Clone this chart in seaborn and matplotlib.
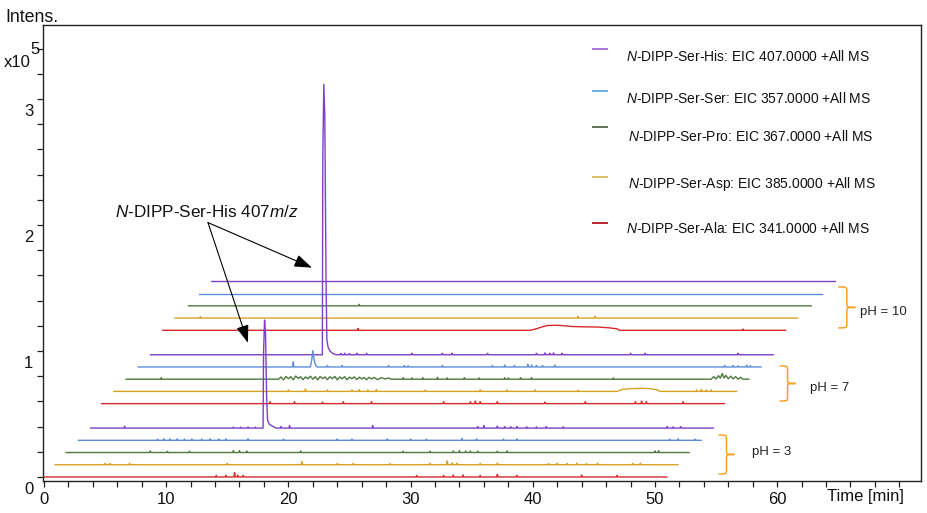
import numpy as np
import pandas as pd
import matplotlib
matplotlib.use("Agg")
import matplotlib.pyplot as plt
import matplotlib.transforms as mtransforms
from matplotlib.path import Path
from matplotlib.patches import PathPatch
import seaborn as sns

# ---------------- data ----------------
compounds = ["His", "Ser", "Pro", "Asp", "Ala"]
eic_mz = ["407.0000", "357.0000", "367.0000", "385.0000", "341.0000"]
ph_groups = ["pH = 3", "pH = 7", "pH = 10"]

# traces from bottom to top: (pH3: Ala, Asp, Pro, Ser, His), (pH7 ...), (pH10 ...)
trace_compound = ["Ala", "Asp", "Pro", "Ser", "His"] * 3
trace_start = [0.0, 0.9, 1.8, 2.8, 3.8, 4.7, 5.7, 6.7, 7.7, 8.7,
               9.7, 10.7, 11.8, 12.7, 13.7]
trace_length = 51.0
trace_offset = [0.0, 0.097, 0.194, 0.291, 0.388,
                0.582, 0.679, 0.776, 0.873, 0.970,
                1.164, 1.261, 1.358, 1.455, 1.552]

# small spikes (plotted time [min], intensity x1e5)
spikes_ph3_ala = [(14.1, .012), (14.9, .012), (15.6, .035), (15.85, .015), (16.3, .012),
                  (30.5, .012), (32.7, .012), (33.5, .015), (34.3, .015), (35.7, .012),
                  (37.1, .02), (38.7, .012), (44.0, .015), (46.9, .012)]
spikes_ph3_asp = [(5.0, .01), (5.4, .01), (7.0, .012), (15.0, .012), (21.1, .025),
                  (24.0, .01), (25.3, .01), (28.3, .01), (31.6, .012), (33.0, .03),
                  (33.4, .015), (33.8, .012), (35.7, .01), (37.1, .012), (41.3, .01),
                  (42.0, .012), (42.8, .01), (43.6, .012), (44.4, .01), (45.3, .012),
                  (48.2, .01), (48.8, .012)]
spikes_ph3_pro = [(8.7, .012), (10.1, .01), (11.9, .01), (15.5, .015), (16.0, .015),
                  (16.6, .012), (21.0, .012), (29.4, .01), (31.6, .01), (33.5, .012),
                  (34.0, .015), (34.5, .012), (34.9, .012), (35.5, .01), (37.1, .01),
                  (37.9, .012), (50.0, .012), (50.3, .015)]
spikes_ph3_ser = [(9.3, .01), (9.8, .012), (10.3, .01), (10.9, .012), (11.5, .01),
                  (12.1, .01), (12.9, .01), (13.6, .012), (14.3, .01), (14.9, .012),
                  (16.7, .012), (19.6, .01), (24.0, .01), (25.2, .01), (28.1, .012),
                  (30.0, .01), (31.3, .01), (34.2, .015), (35.4, .012), (37.6, .01),
                  (38.7, .012), (51.2, .01), (51.9, .012), (53.3, .01)]
spikes_ph3_his = [(6.6, .015), (15.5, .008), (16.1, .008), (16.7, .008), (17.3, .008),
                  (19.4, .012), (20.1, .02), (26.9, .02), (35.5, .012), (36.0, .02),
                  (37.1, .015), (37.7, .012), (38.2, .01), (38.7, .012), (39.5, .01),
                  (40.3, .01), (41.1, .012), (42.5, .01), (51.0, .012), (51.5, .01),
                  (52.1, .012)]
spikes_ph7_ala = [(18.5, .015), (20.5, .015), (22.8, .012), (24.5, .015), (26.8, .015),
                  (32.7, .015), (34.9, .015), (35.3, .02), (35.7, .015), (37.1, .015),
                  (41.0, .012), (44.3, .015), (48.4, .015), (48.9, .02), (49.3, .015),
                  (52.3, .015)]
spikes_ph7_asp = [(20.0, .012), (21.4, .02), (23.2, .012), (25.2, .012), (25.8, .015),
                  (26.5, .012), (27.2, .015), (31.2, .01), (35.7, .012), (37.9, .012),
                  (40.2, .012), (43.7, .01), (53.4, .012), (53.8, .015), (54.2, .012),
                  (54.6, .012)]
spikes_ph7_pro = [(9.6, .012), (29.4, .012), (30.1, .01), (31.0, .012), (32.2, .015),
                  (33.0, .01), (34.4, .012), (35.6, .01), (37.7, .012), (38.0, .01),
                  (39.0, .012), (39.9, .012), (46.6, .01)]
spikes_ph7_ser = [(20.4, .04), (23.2, .012), (24.4, .012), (28.2, .012), (29.5, .012),
                  (29.8, .01), (32.6, .012), (36.7, .012), (37.7, .015), (38.5, .012),
                  (39.6, .02), (39.9, .015), (40.3, .012), (40.8, .012), (41.8, .015),
                  (55.7, .012), (56.4, .012), (56.8, .01), (57.5, .015), (57.8, .01)]
spikes_ph7_his = [(24.3, .01), (24.6, .012), (25.0, .01), (25.6, .012), (26.4, .012),
                  (30.1, .012), (32.6, .012), (33.4, .012), (36.3, .012), (40.3, .012),
                  (41.0, .015), (41.4, .012), (41.7, .015), (42.4, .012), (48.0, .012),
                  (49.2, .012), (56.8, .012)]
spikes_ph10_ala = [(25.7, .015), (57.2, .01)]
spikes_ph10_asp = [(12.8, .012), (43.7, .015), (45.1, .015)]
spikes_ph10_pro = [(25.8, .012)]
spikes_ph10_ser = []
spikes_ph10_his = []

# noisy bands of the pH 7 Pro trace (plotted time [min], intensity x1e5)
noise_ph7_pro_a_x = [19.2, 19.4, 19.6, 19.8, 20.0, 20.2, 20.4, 20.6, 20.8, 21.0, 21.2, 21.4,
                     21.6, 21.8, 22.0, 22.2, 22.4, 22.6, 22.8, 23.0, 23.2, 23.4, 23.6, 23.8,
                     24.0, 24.2, 24.4, 24.6, 24.8, 25.0, 25.2, 25.4, 25.6, 25.8, 26.0, 26.2,
                     26.4, 26.6, 26.8, 27.0, 27.3, 27.6, 27.9, 28.2, 28.4]
noise_ph7_pro_a_y = [0.0, 0.018, -0.006, 0.022, 0.004, 0.02, -0.005, 0.025, 0.006, 0.02,
                     -0.004, 0.018, 0.003, 0.024, 0.0, 0.02, -0.006, 0.022, 0.005, 0.018,
                     -0.004, 0.02, 0.004, 0.022, -0.005, 0.018, 0.003, 0.02, -0.004, 0.016,
                     0.004, 0.018, -0.003, 0.016, 0.002, 0.014, -0.004, 0.015, 0.002, 0.014,
                     -0.003, 0.012, 0.002, 0.01, 0.0]
noise_ph7_pro_b_x = [54.6, 54.8, 55.0, 55.2, 55.35, 55.5, 55.65, 55.8, 56.0, 56.2, 56.4,
                     56.6, 56.8, 57.0, 57.2]
noise_ph7_pro_b_y = [0.0, 0.02, 0.002, 0.028, 0.008, 0.045, 0.01, 0.03, 0.004, 0.024,
                     0.002, 0.02, 0.0, 0.015, 0.0]

# larger peaks / humps (plotted time [min], intensity x1e5 above the trace baseline)
peak_ph3_his_x = [17.93, 17.97, 18.05, 18.13, 18.22, 18.30, 18.45, 18.70, 19.00]
peak_ph3_his_y = [0.0, 0.60, 0.857, 0.75, 0.25, 0.06, 0.03, 0.015, 0.0]
peak_ph7_his_x = [22.78, 22.82, 22.90, 22.98, 23.08, 23.15, 23.25, 23.40, 23.60, 23.90]
peak_ph7_his_y = [0.0, 1.60, 2.146, 1.90, 0.60, 0.12, 0.06, 0.03, 0.012, 0.0]
peak_ph7_ser_x = [21.80, 21.92, 22.00, 22.08, 22.20, 22.35]
peak_ph7_ser_y = [0.0, 0.06, 0.13, 0.07, 0.02, 0.0]
hump_ph10_ala_x = [39.8, 40.2, 40.8, 41.2, 42.0, 42.6, 43.2, 44.0, 45.3, 46.2, 46.9, 47.1]
hump_ph10_ala_y = [0.0, 0.01, 0.028, 0.038, 0.04, 0.036, 0.03, 0.028, 0.026, 0.02, 0.012, 0.0]
hump_ph7_asp_x = [46.9, 47.3, 48.0, 49.0, 49.8, 50.2, 50.4]
hump_ph7_asp_y = [0.0, 0.015, 0.022, 0.025, 0.02, 0.012, 0.0]

# ---------------- styling ----------------
sns.set_theme(style="ticks")
plt.rcParams["font.family"] = ["Liberation Sans", "DejaVu Sans"]
plt.rcParams["mathtext.fontset"] = "custom"
plt.rcParams["mathtext.rm"] = "Liberation Sans"
plt.rcParams["mathtext.it"] = "Liberation Sans:italic"

trace_colors = {"His": "#7E3FC4", "Ser": "#5B8DD8", "Pro": "#4D7A3C",
                "Asp": "#D6A224", "Ala": "#D62828"}
legend_colors = {"His": "#A56BD6", "Ser": "#62A8E2", "Pro": "#54684A",
                 "Asp": "#D9B75C", "Ala": "#B3141C"}

all_spikes = [spikes_ph3_ala, spikes_ph3_asp, spikes_ph3_pro, spikes_ph3_ser, spikes_ph3_his,
              spikes_ph7_ala, spikes_ph7_asp, spikes_ph7_pro, spikes_ph7_ser, spikes_ph7_his,
              spikes_ph10_ala, spikes_ph10_asp, spikes_ph10_pro, spikes_ph10_ser, spikes_ph10_his]
all_peaks = {4: [(peak_ph3_his_x, peak_ph3_his_y)],
             9: [(peak_ph7_his_x, peak_ph7_his_y)],
             8: [(peak_ph7_ser_x, peak_ph7_ser_y)],
             10: [(hump_ph10_ala_x, hump_ph10_ala_y)],
             6: [(hump_ph7_asp_x, hump_ph7_asp_y)],
             7: [(noise_ph7_pro_a_x, noise_ph7_pro_a_y), (noise_ph7_pro_b_x, noise_ph7_pro_b_y)]}


def build_trace(i):
    start = trace_start[i]
    pts = [(start, 0.0), (start + trace_length, 0.0)]
    for (x, h) in all_spikes[i]:
        pts += [(x - 0.05, 0.0), (x, h), (x + 0.05, 0.0)]
    for (px, py) in all_peaks.get(i, []):
        pts += list(zip(px, py))
    pts.sort(key=lambda p: p[0])
    xs = np.array([p[0] for p in pts])
    ys = np.array([p[1] for p in pts]) + trace_offset[i]
    return xs, ys


W, H = 928, 513
fig = plt.figure(figsize=(W / 100, H / 100), dpi=100)
ax = fig.add_axes([43 / W, (H - 481) / H, (921 - 43) / W, (481 - 25) / H])

for i in range(len(trace_start)):
    xs, ys = build_trace(i)
    df = pd.DataFrame({"time": xs, "intensity": ys})
    sns.lineplot(data=df, x="time", y="intensity", ax=ax, estimator=None, sort=False,
                 color=trace_colors[trace_compound[i]], lw=1.0, zorder=30 - i, legend=False)

ax.set_xlim(-0.08, 71.77)
ax.set_ylim(-0.032, 3.587)
ax.set_xlabel("")
ax.set_ylabel("")

for s in ax.spines.values():
    s.set_visible(True)
    s.set_linewidth(1.0)
    s.set_color("#222222")

ax.set_xticks([0, 10, 20, 30, 40, 50, 60])
ax.set_xticks(np.arange(0, 72, 2), minor=True)
ax.set_yticks([0, 1, 2, 3])
ax.set_yticks(np.arange(0, 3.5, 0.2), minor=True)
ax.tick_params(axis="both", which="both", direction="out", length=4, width=0.9,
               color="#222222", labelsize=12, labelcolor="#111111")
ax.tick_params(axis="x", which="both", top=False, pad=4)
ax.tick_params(axis="y", which="both", right=False, pad=3)

# y tick labels sit a little below their ticks in the reference
off = mtransforms.ScaledTranslation(0, -0.11, fig.dpi_scale_trans)
for t in ax.yaxis.get_major_ticks():
    t.label1.set_transform(t.label1.get_transform() + off)

# axis texts
fig.text(5 / W, 1 - 17.5 / H, "Intens.", fontsize=12.8, ha="left", va="center", color="#111111")
fig.text(4 / W, 1 - 63 / H, "x10", fontsize=12, ha="left", va="center", color="#111111")
fig.text(30 / W, 1 - 49 / H, "5", fontsize=12, ha="left", va="center", color="#111111")
fig.text(865 / W, 1 - 497 / H, "Time [min]", fontsize=12, ha="center", va="center", color="#111111")

# legend (manual, as in the reference)
legend_line_y = [3.394, 3.060, 2.774, 2.377, 2.019]
legend_text_y = [3.339, 3.005, 2.700, 2.329, 1.971]
legend_text_x = [47.6, 47.6, 47.8, 47.8, 47.6]
for k, c in enumerate(compounds):
    ax.plot([44.84, 46.15], [legend_line_y[k], legend_line_y[k]], color=legend_colors[c],
            lw=1.3, solid_capstyle="butt", zorder=40)
    ax.text(legend_text_x[k], legend_text_y[k],
            r"$\mathit{N}$-DIPP-Ser-" + c + ": EIC " + eic_mz[k] + " +All MS",
            fontsize=10, ha="left", va="center", color="#111111", zorder=40)

# annotation with two arrows
ax.text(13.34, 2.099, r"$\mathit{N}$-DIPP-Ser-His 407$\mathit{m/z}$", fontsize=12.3,
        ha="center", va="center", color="#111111", zorder=40)
arrow_ends = [(16.69, 1.065), (21.93, 1.661)]
for (ex, ey) in arrow_ends:
    ax.annotate("", xy=(ex, ey), xytext=(13.42, 2.019),
                arrowprops=dict(arrowstyle="-|>,head_length=0.9,head_width=0.32",
                                color="black", lw=0.8, shrinkA=0, shrinkB=0,
                                mutation_scale=12),
                zorder=40)

# braces with pH labels
brace_x0 = [55.2, 60.2, 65.0]
brace_tip = [56.5, 61.5, 66.4]
brace_top = [0.333, 0.881, 1.508]
brace_bot = [0.024, 0.603, 1.183]
label_x = [57.9, 62.7, 66.8]
label_y = [0.198, 0.706, 1.31]


def brace(x0, tip, ytop, ybot):
    xm = x0 + 0.5 * (tip - x0)
    ym = 0.5 * (ytop + ybot)
    r = 0.25 * (ytop - ybot) / 2
    verts = [(x0, ytop), (xm, ytop), (xm, ytop), (xm, ytop - r),
             (xm, ym + r),
             (xm, ym), (xm, ym), (tip, ym),
             (xm, ym), (xm, ym), (xm, ym - r),
             (xm, ybot + r),
             (xm, ybot), (xm, ybot), (x0, ybot)]
    codes = [Path.MOVETO, Path.CURVE4, Path.CURVE4, Path.CURVE4,
             Path.LINETO,
             Path.CURVE4, Path.CURVE4, Path.CURVE4,
             Path.CURVE4, Path.CURVE4, Path.CURVE4,
             Path.LINETO,
             Path.CURVE4, Path.CURVE4, Path.CURVE4]
    return Path(verts, codes)


for k in range(3):
    p = brace(brace_x0[k], brace_tip[k], brace_top[k], brace_bot[k])
    ax.add_patch(PathPatch(p, fill=False, edgecolor="#F5A226", lw=1.1, zorder=40))
    ax.text(label_x[k], label_y[k], ph_groups[k], fontsize=9.5, ha="left", va="center",
            color="#222222", zorder=40)

fig.savefig("out.png", dpi=100)
